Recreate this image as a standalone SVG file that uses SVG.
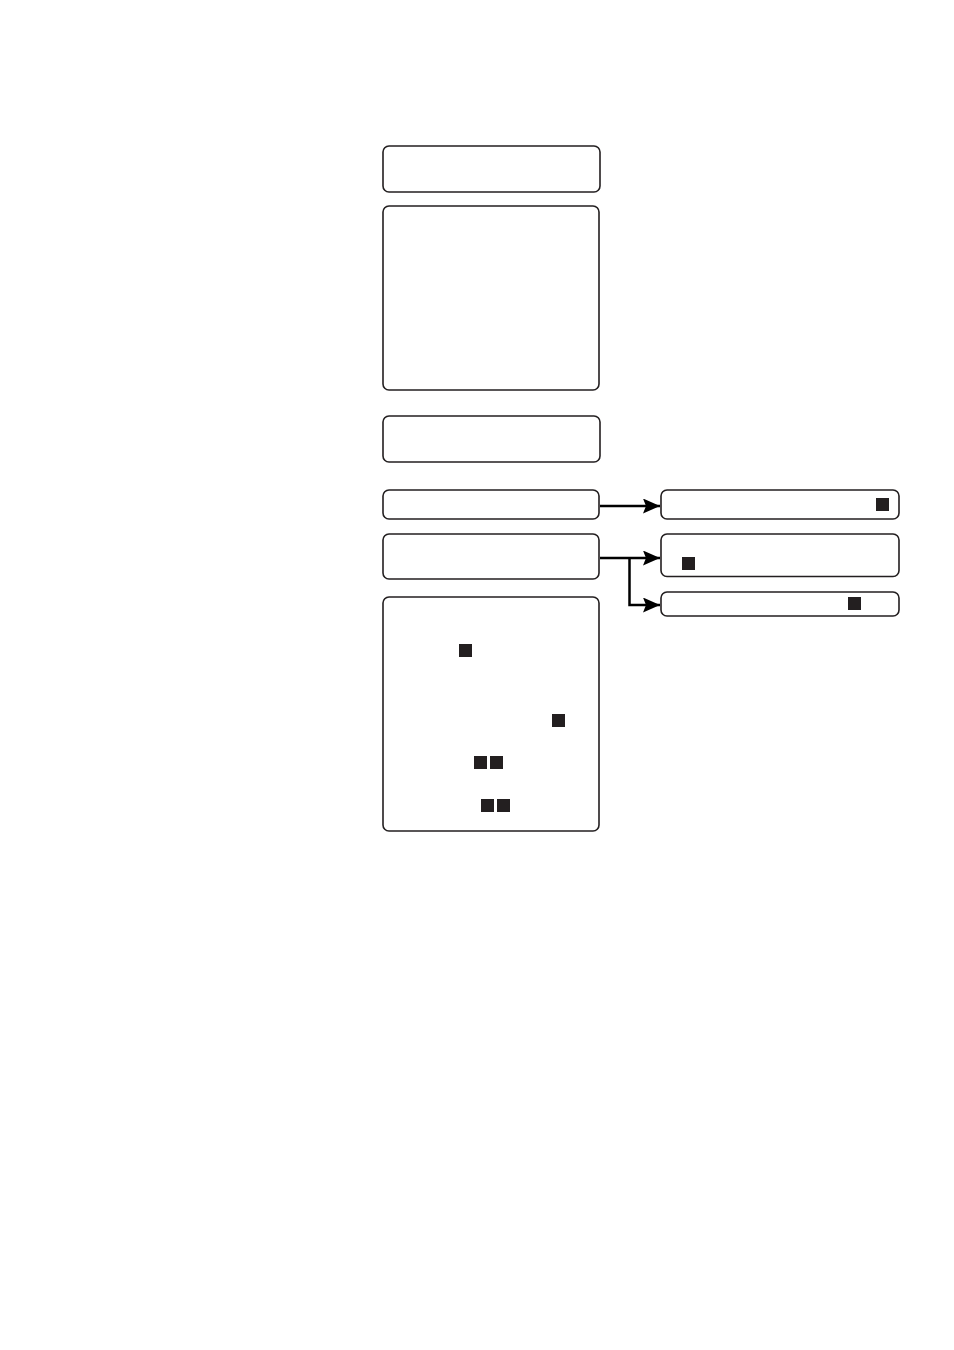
<svg xmlns="http://www.w3.org/2000/svg" width="954" height="1350" viewBox="0 0 954 1350">
<defs>
<style>
.box{fill:#fff;stroke:#231f20;stroke-width:1.6}
.sq{fill:#231f20}
.con{fill:none;stroke:#000;stroke-width:2.5}
</style>
<marker id="ah" markerWidth="17" markerHeight="15" refX="17" refY="7.5" orient="auto" markerUnits="userSpaceOnUse">
<path d="M0,0 L17,7.5 L0,15 L3,7.5 Z" fill="#000"/>
</marker>
</defs>
<rect width="954" height="1350" fill="#fff"/>
<g id="connectors">
<path class="con" d="M600,506 H660" marker-end="url(#ah)"/>
<path class="con" d="M600,558 H660" marker-end="url(#ah)"/>
<path class="con" d="M629.5,558 V605 H660" marker-end="url(#ah)"/>
</g>
<g id="n1"><rect class="box" x="383" y="146" width="217" height="46" rx="6"/></g>
<g id="n2"><rect class="box" x="383" y="206" width="216" height="184" rx="6"/></g>
<g id="n3"><rect class="box" x="383" y="416" width="217" height="46" rx="6"/></g>
<g id="n4"><rect class="box" x="383" y="490" width="216" height="29" rx="6"/></g>
<g id="n5"><rect class="box" x="383" y="534" width="216" height="45" rx="6"/></g>
<g id="n6"><rect class="box" x="383" y="597" width="216" height="234" rx="6"/>
<rect class="sq" x="459" y="644" width="13" height="13"/>
<rect class="sq" x="552" y="714" width="13" height="13"/>
<rect class="sq" x="474" y="756" width="13" height="13"/>
<rect class="sq" x="490" y="756" width="13" height="13"/>
<rect class="sq" x="481" y="799" width="13" height="13"/>
<rect class="sq" x="497" y="799" width="13" height="13"/>
</g>
<g id="r1"><rect class="box" x="661" y="490" width="238" height="29" rx="6"/>
<rect class="sq" x="876" y="498" width="13" height="13"/></g>
<g id="r2"><rect class="box" x="661" y="534" width="238" height="42.5" rx="6"/>
<rect class="sq" x="682" y="557" width="13" height="13"/></g>
<g id="r3"><rect class="box" x="661" y="592" width="238" height="24" rx="6"/>
<rect class="sq" x="848" y="597" width="13" height="13"/></g>
</svg>
